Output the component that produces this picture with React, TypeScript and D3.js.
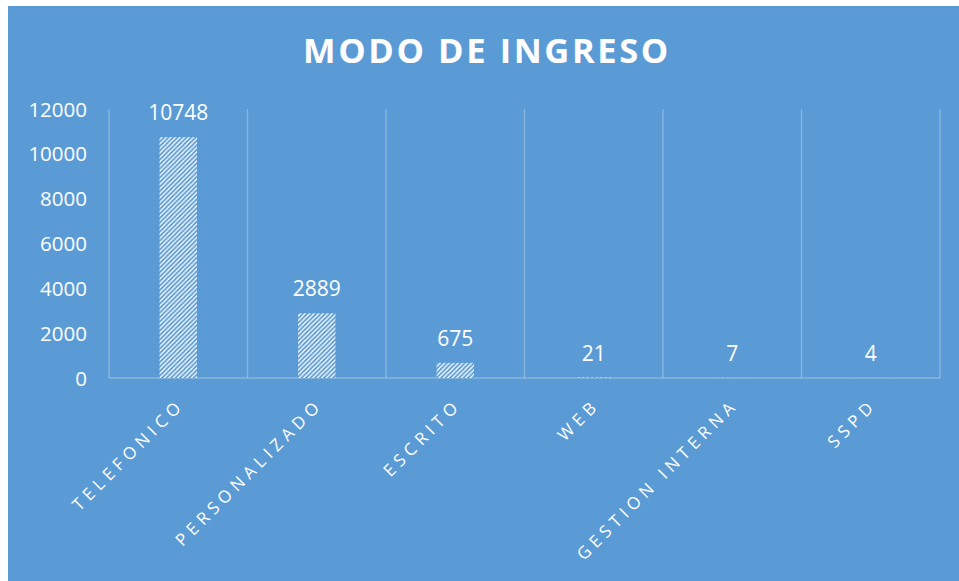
import React from "react";
import * as d3 from "d3";

const categories = ["TELEFONICO", "PERSONALIZADO", "ESCRITO", "WEB", "GESTION INTERNA", "SSPD"];
const values = [10748, 2889, 675, 21, 7, 4];
const yTicks = [0, 2000, 4000, 6000, 8000, 10000, 12000];
const title = "MODO DE INGRESO";

const W = 959;
const H = 581;
const BG = "#5B9BD5";
const FONT = "'Open Sans', 'Segoe UI', 'Liberation Sans', sans-serif";

export default function App() {
  const plot = { left: 109, right: 940, top: 109, bottom: 378 };
  const x = d3.scaleBand<string>().domain(categories).range([plot.left, plot.right]).padding(0);
  const y = d3.scaleLinear().domain([0, 12000]).range([plot.bottom, plot.top]);
  const bw = x.bandwidth() * 0.27;
  const grid = "rgba(255,255,255,0.28)";

  return (
    <svg
      width={W}
      height={H}
      style={{ position: "absolute", left: 0, top: 0, display: "block" }}
    >
      <defs>
        <pattern id="hatch" width="4.5" height="4.5" patternUnits="userSpaceOnUse">
          <rect width="4.5" height="4.5" fill="#ffffff" />
          <path d="M-1,1 l2,-2 M0,4.5 l4.5,-4.5 M3.5,5.5 l2,-2" stroke={BG} strokeWidth="1.8" />
        </pattern>
      </defs>
      <rect x={8} y={6} width={W - 8} height={H - 6} fill={BG} />
      <text
        x={487}
        y={63}
        textAnchor="middle"
        fill="#ffffff"
        fontFamily={FONT}
        fontWeight="bold"
        fontSize={34.5}
        letterSpacing={2.6}
      >
        {title}
      </text>
      {/* vertical gridlines */}
      {[...categories.map((c) => x(c) as number), plot.right].map((gx, i) => (
        <line key={"g" + i} x1={gx} x2={gx} y1={plot.top} y2={plot.bottom} stroke={grid} strokeWidth={1.3} />
      ))}
      <line x1={plot.left} x2={plot.right} y1={plot.bottom} y2={plot.bottom} stroke={grid} strokeWidth={1.3} />
      {/* y ticks */}
      {yTicks.map((t) => (
        <text
          key={"t" + t}
          x={87}
          y={y(t) + 7.5}
          textAnchor="end"
          fill="#ffffff"
          fontFamily={FONT}
          fontSize={20.5}
        >
          {t}
        </text>
      ))}
      {/* bars */}
      {categories.map((c, i) => {
        const cx = (x(c) as number) + x.bandwidth() / 2;
        const top = y(values[i]);
        return (
          <g key={"b" + c}>
            <rect x={cx - bw / 2} y={top} width={bw} height={plot.bottom - top} fill="url(#hatch)" />
            <text
              x={cx}
              y={top - 17}
              textAnchor="middle"
              fill="#ffffff"
              fontFamily={FONT}
              fontSize={21}
            >
              {values[i]}
            </text>
          </g>
        );
      })}
      {/* x labels */}
      {categories.map((c) => {
        const cx = (x(c) as number) + x.bandwidth() / 2;
        const ax = cx + 7;
        const ay = 406;
        return (
          <text
            key={"l" + c}
            x={ax}
            y={ay}
            transform={`rotate(-45, ${ax}, ${ay})`}
            textAnchor="end"
            fill="#ffffff"
            fontFamily={FONT}
            fontSize={17}
            letterSpacing={4.9}
          >
            {c}
          </text>
        );
      })}
    </svg>
  );
}
